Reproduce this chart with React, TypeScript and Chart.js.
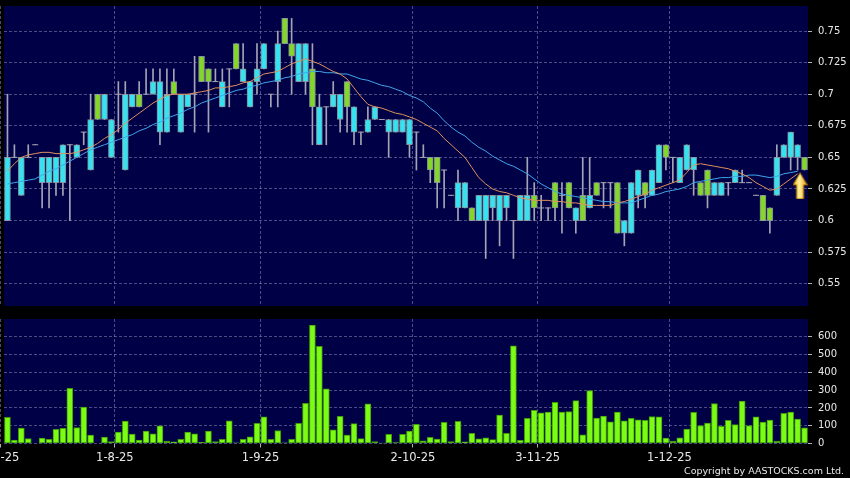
import React, { useEffect, useRef } from 'react';
import { Chart, registerables } from 'chart.js';

Chart.register(...registerables);

// ---- data ----
const opens = [
  0.60, 0.65, 0.62, 0.65, 0.66, 0.63, 0.63, 0.63, 0.63, 0.66,
  0.65, 0.67, 0.64, 0.70, 0.68, 0.65, 0.70, 0.64, 0.69, 0.70,
  0.70, 0.70, 0.67, 0.67, 0.71, 0.67, 0.69, 0.70, 0.73, 0.72,
  0.71, 0.69, 0.72, 0.74, 0.71, 0.69, 0.71, 0.72, 0.70, 0.71,
  0.76, 0.74, 0.71, 0.71, 0.72, 0.66, 0.69, 0.69, 0.68, 0.71,
  0.67, 0.67, 0.67, 0.68, 0.68, 0.67, 0.67, 0.67, 0.66, 0.67,
  0.65, 0.65, 0.65, 0.64, 0.62, 0.61, 0.61, 0.61, 0.60, 0.60,
  0.61, 0.60, 0.61, 0.60, 0.60, 0.60, 0.62, 0.61, 0.61, 0.63,
  0.62, 0.63, 0.60, 0.62, 0.61, 0.63, 0.63, 0.63, 0.63, 0.59,
  0.59, 0.62, 0.63, 0.62, 0.63, 0.66, 0.65, 0.63, 0.64, 0.64,
  0.63, 0.64, 0.62, 0.62, 0.63, 0.63, 0.63, 0.63, 0.62, 0.62,
  0.61, 0.62, 0.65, 0.65, 0.65, 0.65,
];
const highs = [
  0.70, 0.66, 0.65, 0.66, 0.66, 0.65, 0.65, 0.65, 0.66, 0.66,
  0.66, 0.67, 0.70, 0.70, 0.70, 0.68, 0.71, 0.71, 0.70, 0.71,
  0.72, 0.72, 0.72, 0.72, 0.72, 0.70, 0.70, 0.73, 0.73, 0.72,
  0.72, 0.72, 0.72, 0.74, 0.74, 0.71, 0.74, 0.74, 0.70, 0.75,
  0.76, 0.76, 0.74, 0.74, 0.74, 0.70, 0.69, 0.71, 0.70, 0.71,
  0.69, 0.67, 0.69, 0.69, 0.68, 0.68, 0.68, 0.68, 0.68, 0.67,
  0.66, 0.65, 0.65, 0.64, 0.62, 0.64, 0.63, 0.61, 0.62, 0.62,
  0.62, 0.62, 0.62, 0.60, 0.62, 0.65, 0.63, 0.62, 0.61, 0.63,
  0.63, 0.63, 0.61, 0.65, 0.65, 0.63, 0.63, 0.63, 0.63, 0.60,
  0.63, 0.64, 0.63, 0.64, 0.66, 0.66, 0.65, 0.65, 0.66, 0.65,
  0.63, 0.64, 0.63, 0.63, 0.63, 0.64, 0.64, 0.63, 0.62, 0.62,
  0.61, 0.66, 0.66, 0.67, 0.66, 0.65,
];
const lows = [
  0.60, 0.65, 0.62, 0.65, 0.66, 0.61, 0.61, 0.62, 0.62, 0.60,
  0.65, 0.66, 0.64, 0.68, 0.68, 0.65, 0.67, 0.64, 0.69, 0.69,
  0.70, 0.70, 0.66, 0.67, 0.70, 0.67, 0.69, 0.67, 0.71, 0.67,
  0.71, 0.69, 0.69, 0.72, 0.71, 0.69, 0.70, 0.72, 0.69, 0.69,
  0.74, 0.70, 0.71, 0.70, 0.66, 0.66, 0.66, 0.69, 0.67, 0.67,
  0.66, 0.66, 0.67, 0.68, 0.68, 0.65, 0.67, 0.67, 0.65, 0.64,
  0.65, 0.63, 0.61, 0.61, 0.62, 0.60, 0.61, 0.60, 0.60, 0.57,
  0.60, 0.58, 0.60, 0.57, 0.60, 0.60, 0.60, 0.60, 0.60, 0.60,
  0.59, 0.61, 0.59, 0.60, 0.61, 0.62, 0.61, 0.61, 0.59, 0.58,
  0.59, 0.61, 0.61, 0.62, 0.63, 0.64, 0.63, 0.63, 0.64, 0.62,
  0.62, 0.61, 0.62, 0.62, 0.62, 0.63, 0.63, 0.63, 0.62, 0.60,
  0.59, 0.62, 0.65, 0.64, 0.64, 0.64,
];
const closes = [
  0.65, 0.65, 0.65, 0.65, 0.66, 0.65, 0.65, 0.65, 0.66, 0.66,
  0.66, 0.67, 0.68, 0.68, 0.70, 0.68, 0.70, 0.70, 0.70, 0.69,
  0.70, 0.71, 0.71, 0.70, 0.70, 0.70, 0.70, 0.70, 0.71, 0.71,
  0.71, 0.71, 0.72, 0.72, 0.72, 0.71, 0.72, 0.74, 0.70, 0.74,
  0.74, 0.73, 0.74, 0.74, 0.69, 0.69, 0.69, 0.70, 0.70, 0.69,
  0.69, 0.67, 0.68, 0.69, 0.68, 0.68, 0.68, 0.68, 0.68, 0.67,
  0.65, 0.64, 0.63, 0.64, 0.62, 0.63, 0.63, 0.60, 0.62, 0.62,
  0.62, 0.62, 0.62, 0.60, 0.62, 0.62, 0.61, 0.61, 0.61, 0.61,
  0.62, 0.61, 0.61, 0.60, 0.62, 0.62, 0.63, 0.63, 0.59, 0.60,
  0.63, 0.64, 0.62, 0.64, 0.66, 0.65, 0.65, 0.65, 0.66, 0.65,
  0.62, 0.62, 0.63, 0.63, 0.63, 0.64, 0.63, 0.63, 0.62, 0.60,
  0.60, 0.65, 0.66, 0.67, 0.66, 0.64,
];
const volumes = [
  147, 19, 87, 28, 0, 30, 23, 79, 85, 310,
  90, 205, 47, 0, 36, 11, 64, 126, 53, 19,
  70, 55, 100, 13, 9, 23, 64, 55, 6, 70,
  11, 24, 128, 4, 24, 38, 113, 150, 23, 73,
  4, 23, 113, 226, 666, 547, 308, 77, 153, 48,
  112, 27, 223, 11, 2, 51, 5, 52, 70, 108,
  15, 35, 25, 119, 11, 124, 10, 57, 26, 32,
  22, 160, 57, 549, 18, 141, 186, 173, 177, 231,
  177, 180, 241, 49, 297, 143, 154, 122, 177, 128,
  141, 133, 130, 152, 150, 30, 13, 32, 81, 175,
  101, 115, 224, 96, 130, 107, 239, 101, 150, 120,
  132, 13, 169, 177, 137, 88,
];
const maShort = [
  0.639, 0.645, 0.650, 0.652, 0.653, 0.654, 0.654, 0.653, 0.653, 0.653,
  0.654, 0.656, 0.658, 0.661, 0.665, 0.668, 0.672, 0.677, 0.681, 0.685,
  0.689, 0.693, 0.696, 0.699, 0.700, 0.700, 0.700, 0.701, 0.702, 0.703,
  0.705, 0.705, 0.706, 0.707, 0.709, 0.710, 0.713, 0.716, 0.717, 0.718,
  0.721, 0.724, 0.726, 0.728, 0.726, 0.724, 0.721, 0.718, 0.716, 0.712,
  0.705, 0.698, 0.692, 0.690, 0.689, 0.687, 0.685, 0.684, 0.682, 0.680,
  0.677, 0.674, 0.671, 0.665, 0.660, 0.655, 0.650, 0.642, 0.634, 0.629,
  0.625, 0.623, 0.622, 0.620, 0.618, 0.617, 0.616, 0.616, 0.616, 0.615,
  0.615, 0.614, 0.614, 0.613, 0.612, 0.612, 0.612, 0.612, 0.614, 0.615,
  0.617, 0.619, 0.621, 0.624, 0.626, 0.628, 0.630, 0.632, 0.638, 0.644,
  0.645, 0.644, 0.643, 0.642, 0.641, 0.639, 0.637, 0.634, 0.630, 0.627,
  0.624, 0.625, 0.629, 0.633, 0.637, null,
];
const maLong = [
  0.629, 0.630, 0.631, 0.632, 0.633, 0.636, 0.639, 0.641, 0.644, 0.647,
  0.650, 0.653, 0.656, 0.658, 0.660, 0.662, 0.664, 0.666, 0.668, 0.671,
  0.673, 0.676, 0.678, 0.681, 0.683, 0.685, 0.688, 0.690, 0.693, 0.695,
  0.697, 0.699, 0.701, 0.703, 0.704, 0.706, 0.707, 0.709, 0.710, 0.711,
  0.713, 0.714, 0.716, 0.717, 0.718, 0.718, 0.717, 0.717, 0.716, 0.716,
  0.714, 0.712, 0.711, 0.709, 0.707, 0.706, 0.704, 0.702, 0.699, 0.697,
  0.694, 0.689, 0.685, 0.679, 0.674, 0.670, 0.667, 0.662, 0.658, 0.655,
  0.651, 0.648, 0.645, 0.643, 0.640, 0.637, 0.633, 0.629, 0.626, 0.623,
  0.621, 0.620, 0.619, 0.618, 0.617, 0.616, 0.615, 0.615, 0.614, 0.614,
  0.614, 0.616, 0.618, 0.620, 0.621, 0.623, 0.624, 0.625, 0.627, 0.630,
  0.631, 0.632, 0.633, 0.634, 0.634, 0.635, 0.635, 0.636, 0.636, 0.635,
  0.634, 0.635, 0.637, 0.638, 0.639, null,
];
const dateTickIdx = [-1, 15.5, 36.5, 58.5, 76.5, 95.5];
const dateTickLabels = ['2-7-25', '1-8-25', '1-9-25', '2-10-25', '3-11-25', '1-12-25'];
const priceTicks = [0.55, 0.575, 0.6, 0.625, 0.65, 0.675, 0.7, 0.725, 0.75];
const volumeTicks = [0, 100, 200, 300, 400, 500, 600];
const signalX = [114.35];
const signalY = [0.6275];

// ---- styles ----
const FONT = 'DejaVu Sans';
const NAVY = '#000046';
const GRID = 'rgba(125,125,175,0.6)';
const TICK = '#b0b0b8';
const TEXT = '#e8e8e8';
const CYAN = '#36e2ef';
const GREEN = '#84d62a';
const BODY_BORDER = 'rgba(150,160,165,0.85)';
const WICK = '#a4a4b4';
const VOL_FILL = '#7cfc14';
const VOL_BORDER = '#3f9a08';

const plotBackground = {
  id: 'plotBackground',
  beforeDraw(chart: any, _a: any, opts: any) {
    const { ctx, chartArea } = chart;
    if (!chartArea) return;
    ctx.save();
    ctx.fillStyle = opts.color || NAVY;
    ctx.fillRect(chartArea.left, chartArea.top, chartArea.right - chartArea.left, chartArea.bottom - chartArea.top);
    ctx.restore();
  },
};

function zeroPadding(s: any) {
  s.paddingLeft = 0;
  s.paddingRight = 0;
  s.paddingTop = 0;
  s.paddingBottom = 0;
}

function makeArrow(): HTMLCanvasElement {
  const c = document.createElement('canvas');
  c.width = 15;
  c.height = 27;
  const g = c.getContext('2d')!;
  const grad = g.createLinearGradient(0, 0, 15, 0);
  grad.addColorStop(0, '#f0a800');
  grad.addColorStop(0.45, '#fff3a0');
  grad.addColorStop(1, '#e89400');
  g.beginPath();
  g.moveTo(7.5, 0.5);
  g.lineTo(14.5, 12.5);
  g.lineTo(11, 12.5);
  g.lineTo(11, 26.5);
  g.lineTo(4, 26.5);
  g.lineTo(4, 12.5);
  g.lineTo(0.5, 12.5);
  g.closePath();
  g.fillStyle = grad;
  g.fill();
  g.strokeStyle = '#b07000';
  g.lineWidth = 1;
  g.stroke();
  return c;
}

function xScale(showLabels: boolean, height: number) {
  return {
    type: 'linear',
    min: -0.5,
    max: 115.5,
    bounds: 'data',
    offset: false,
    afterBuildTicks: (s: any) => {
      s.ticks = dateTickIdx.map((v) => ({ value: v }));
    },
    afterFit: (s: any) => {
      s.height = height;
      zeroPadding(s);
    },
    grid: {
      offset: false,
      color: GRID,
      lineWidth: 1,
      drawTicks: showLabels,
      tickLength: 4,
      tickColor: TICK,
    },
    border: { display: false, dash: [3, 2] },
    ticks: {
      display: showLabels,
      autoSkip: false,
      maxRotation: 0,
      minRotation: 0,
      padding: 4,
      color: TEXT,
      font: { family: FONT, size: 11.5 },
      callback: (_v: any, i: number) => dateTickLabels[i],
    },
  };
}

function yScale(min: number, max: number, tickVals: number[], fmt: (v: number) => string) {
  return {
    type: 'linear',
    position: 'right',
    min,
    max,
    bounds: 'data',
    afterBuildTicks: (s: any) => {
      s.ticks = tickVals.map((v) => ({ value: v }));
    },
    afterFit: (s: any) => {
      s.width = 42;
      zeroPadding(s);
    },
    grid: { color: GRID, lineWidth: 1, drawTicks: true, tickLength: 4, tickColor: TICK },
    border: { display: false, dash: [3, 2] },
    ticks: {
      padding: 6,
      color: TEXT,
      font: { family: FONT, size: 10 },
      callback: (v: any) => fmt(Number(v)),
    },
  };
}

const baseOptions = (padTop: number) => ({
  responsive: false,
  devicePixelRatio: 1,
  animation: false,
  events: [],
  layout: { autoPadding: false, padding: { left: 4, top: padTop, right: 0, bottom: 0 } },
  plugins: {
    legend: { display: false },
    tooltip: { enabled: false },
    plotBackground: { color: NAVY },
  },
});

export default function App() {
  const priceRef = useRef<HTMLCanvasElement>(null);
  const volRef = useRef<HTMLCanvasElement>(null);

  useEffect(() => {
    Chart.defaults.font.family = FONT;
    const idx = closes.map((_, i) => i);
    const arrow = makeArrow();

    const priceChart = new Chart(priceRef.current!, {
      type: 'bar',
      data: {
        datasets: [
          {
            type: 'bar',
            data: idx.map((i) => ({ x: i, y: [lows[i], highs[i]] })),
            backgroundColor: WICK,
            borderWidth: 0,
            grouped: false,
            categoryPercentage: 1,
            barPercentage: 1,
            maxBarThickness: 1,
            order: 5,
          } as any,
          {
            type: 'bar',
            data: idx.map((i) => ({ x: i, y: opens[i] === closes[i] ? null : [opens[i], closes[i]] })),
            backgroundColor: idx.map((i) => (closes[i] > opens[i] ? CYAN : GREEN)),
            borderColor: BODY_BORDER,
            borderWidth: 1,
            borderSkipped: false,
            grouped: false,
            categoryPercentage: 1,
            barPercentage: 1,
            maxBarThickness: 6,
            order: 4,
          } as any,
          {
            type: 'line',
            data: idx.map((i) => ({ x: i, y: opens[i] === closes[i] ? closes[i] : null })),
            showLine: false,
            pointStyle: 'line',
            pointRadius: 3,
            pointBorderColor: WICK,
            pointBorderWidth: 1,
            order: 3,
          } as any,
          {
            type: 'line',
            data: idx.map((i) => ({ x: i, y: maLong[i] })),
            borderColor: '#3fa6ea',
            borderWidth: 1,
            pointRadius: 0,
            tension: 0,
            order: 2,
          } as any,
          {
            type: 'line',
            data: idx.map((i) => ({ x: i, y: maShort[i] })),
            borderColor: '#e0905e',
            borderWidth: 1,
            pointRadius: 0,
            tension: 0,
            order: 1,
          } as any,
          {
            type: 'line',
            data: signalX.map((x, k) => ({ x, y: signalY[k] })),
            showLine: false,
            pointStyle: arrow,
            pointRadius: 8,
            order: 0,
          } as any,
        ],
      },
      options: {
        ...(baseOptions(6) as any),
        scales: {
          x: xScale(false, 6) as any,
          y: yScale(0.5324, 0.7698, priceTicks, (v) => String(Number(v.toFixed(3)))) as any,
        },
      },
      plugins: [plotBackground],
    });

    const volChart = new Chart(volRef.current!, {
      type: 'bar',
      data: {
        datasets: [
          {
            data: idx.map((i) => ({ x: i, y: volumes[i] })),
            backgroundColor: VOL_FILL,
            borderColor: VOL_BORDER,
            borderWidth: 1,
            borderSkipped: false,
            grouped: false,
            categoryPercentage: 1,
            barPercentage: 1,
            maxBarThickness: 6,
          } as any,
        ],
      },
      options: {
        ...(baseOptions(7) as any),
        scales: {
          x: xScale(true, 34.5) as any,
          y: yScale(0, 700, volumeTicks, (v) => String(v)) as any,
        },
      },
      plugins: [plotBackground],
    });

    return () => {
      priceChart.destroy();
      volChart.destroy();
    };
  }, []);

  return (
    <div style={{ position: 'fixed', left: 0, top: 0, width: 850, height: 478, background: '#000', overflow: 'hidden' }}>
      <canvas ref={priceRef} width={850} height={312} style={{ position: 'absolute', left: 0, top: 0, width: 850, height: 312 }} />
      <canvas ref={volRef} width={850} height={166} style={{ position: 'absolute', left: 0, top: 312, width: 850, height: 166 }} />
      <div
        style={{
          position: 'absolute',
          right: 6,
          top: 465,
          color: TEXT,
          fontFamily: FONT,
          fontSize: 9.5,
          lineHeight: '11px',
          whiteSpace: 'nowrap',
        }}
      >
        Copyright by AASTOCKS.com Ltd.
      </div>
    </div>
  );
}
